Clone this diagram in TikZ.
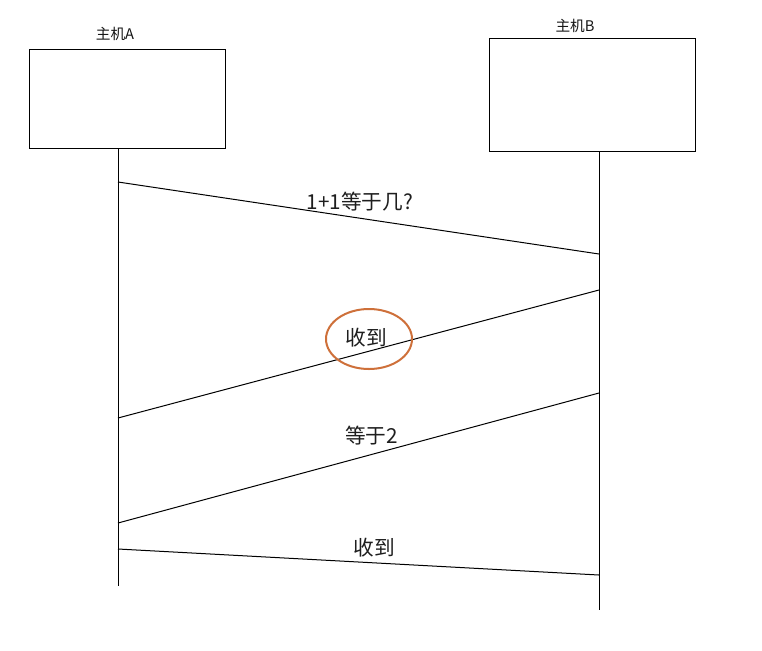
\documentclass[tikz,border=0pt]{standalone}
\usepackage{fontspec}
\setmainfont{Noto Sans CJK SC}
\tikzset{every picture/.style={line width=0.75pt}}
\tikzset{
  hostbox/.style={draw, rectangle, inner sep=0pt},
  hostlabel/.style={inner sep=0.75pt, font=\fontsize{11}{13}\selectfont, color={rgb, 255:red, 20; green, 20; blue, 20}},
  msglabel/.style={inner sep=0.75pt, font=\fontsize{15.5}{18}\selectfont, color={rgb, 255:red, 30; green, 30; blue, 30}},
  lifeline/.style={draw},
  msg/.style={draw},
}
\begin{document}
\begin{tikzpicture}[x=0.75pt,y=0.75pt,yscale=-1,xscale=1]
\useasboundingbox (0,0) rectangle (762,650);

%Shape: Rectangle [id:hostA] 
\node [hostbox, minimum width=147pt, minimum height=74.25pt] (hostA) at (127,98.5) {};
%Shape: Rectangle [id:hostB] 
\node [hostbox, minimum width=154.5pt, minimum height=85.1pt] (hostB) at (592,95.25) {};

% Text Node
\node [hostlabel] (labelA) at (115,34) {主机A};
% Text Node
\node [hostlabel] (labelB) at (575,26) {主机B};

%Straight Lines [id:lifeA] 
\coordinate (topA) at (118,148);
\coordinate (endA) at (118,586);
\draw [lifeline] (topA) -- (endA);
%Straight Lines [id:lifeB] 
\coordinate (topB) at (599,152);
\coordinate (endB) at (599,610);
\draw [lifeline] (topB) -- (endB);

% message end points
\coordinate (a1) at (118,182);
\coordinate (b1) at (599,254);
\coordinate (b2) at (599,290);
\coordinate (a2) at (118,418);
\coordinate (b3) at (599,393);
\coordinate (a3) at (118,523);
\coordinate (a4) at (118,549);
\coordinate (b4) at (599,575);

%Straight Lines [id:msg1] 
\draw [msg] (a1) -- (b1);
%Straight Lines [id:msg2] 
\draw [msg] (b2) -- (a2);
%Straight Lines [id:msg3] 
\draw [msg] (b3) -- (a3);
%Straight Lines [id:msg4] 
\draw [msg] (a4) -- (b4);

% Text Node
\node [msglabel] (ask) at (360,202) {1+1等于几?};
% Text Node
\node [msglabel] (ack1) at (366,338) {收到};
% Text Node
\node [msglabel] (answer) at (371.5,435.5) {等于2};
% Text Node
\node [msglabel] (ack2) at (374,547.5) {收到};

%Shape: Ellipse [id:mark] 
\draw [color={rgb, 255:red, 206; green, 112; blue, 58 }, line width=1.5pt] (369,339) ellipse [x radius=43, y radius=30];
\end{tikzpicture}
\end{document}
